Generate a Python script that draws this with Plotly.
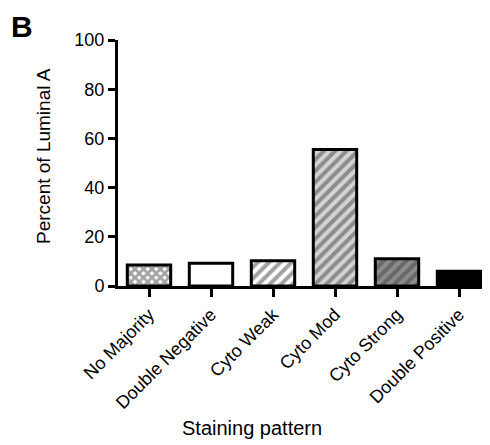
import plotly.graph_objects as go

categories = ["No Majority", "Double Negative", "Cyto Weak", "Cyto Mod", "Cyto Strong", "Double Positive"]
values = [8.5, 9.2, 10.3, 55.5, 11.1, 6.0]
y_ticks = [0, 20, 40, 60, 80, 100]

fill_colors = ["white", "white", "white", "#d4d4d4", "#8c8c8c", "black"]
pattern_shapes = ["x", "", "/", "/", "/", ""]
pattern_fg = ["black", "black", "black", "black", "#2a2a2a", "black"]
pattern_size = [6, 8, 8, 8, 8, 8]
pattern_solidity = [0.7, 0.5, 0.5, 0.5, 0.5, 0.5]

FONT = "Liberation Sans, Arial, sans-serif"

# the page body has an 8px margin, so the figure is offset by (8, 8)
OFF = 8
W, H = 490 - OFF, 445 - OFF
PL, PT, PB = 118 - OFF, 40 - OFF, 445 - 286
PW, PH = W - PL, H - PT - PB

fig = go.Figure()
fig.add_trace(go.Bar(
    x=categories,
    y=values,
    width=0.7,
    marker=dict(
        color=fill_colors,
        line=dict(color="black", width=3),
        pattern=dict(shape=pattern_shapes, fgcolor=pattern_fg, bgcolor=fill_colors,
                     size=pattern_size, solidity=pattern_solidity, fillmode="overlay"),
    ),
))

fig.update_layout(
    width=W, height=H,
    margin=dict(l=PL, r=0, t=PT, b=PB, pad=0),
    paper_bgcolor="white", plot_bgcolor="white",
    font=dict(family=FONT, size=18, color="black"),
    showlegend=False,
    xaxis=dict(
        range=[-0.5, 5.5], automargin=False,
        showline=True, linecolor="black", linewidth=3,
        ticks="outside", ticklen=8, tickwidth=3, tickcolor="black",
        tickangle=-45, tickfont=dict(size=18),
        showgrid=False, zeroline=False,
    ),
    yaxis=dict(
        range=[0, 100], tickvals=y_ticks, automargin=False,
        showline=True, linecolor="black", linewidth=3,
        ticks="outside", ticklen=7, tickwidth=3, tickcolor="black",
        tickfont=dict(size=18),
        showgrid=False, zeroline=False,
    ),
    annotations=[
        dict(text="<b>B</b>", xref="paper", yref="paper", showarrow=False,
             x=-(118 - 9) / PW, y=1 + (40 - 8) / PH,
             xanchor="left", yanchor="top", font=dict(size=30, family=FONT)),
        dict(text="Percent of Luminal A", xref="paper", yref="paper", showarrow=False,
             x=-(118 - 43) / PW, y=(286 - 156) / PH, xanchor="center", yanchor="middle",
             textangle=-90, font=dict(size=19, family=FONT)),
        dict(text="Staining pattern", xref="paper", yref="paper", showarrow=False,
             x=(252 - 118) / PW, y=-(428 - 286) / PH, xanchor="center", yanchor="middle",
             font=dict(size=20, family=FONT)),
    ],
)

fig.write_html("out.html")
